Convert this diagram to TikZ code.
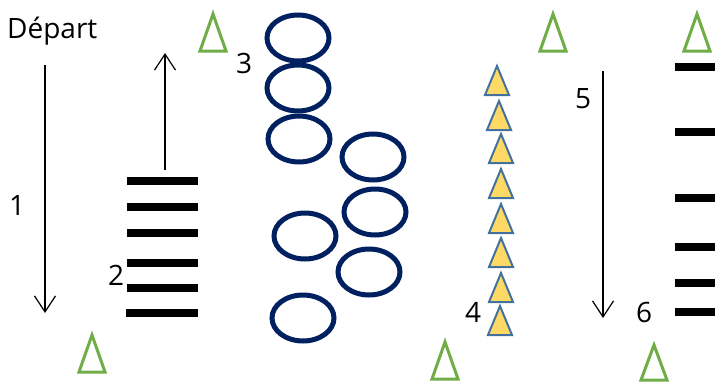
\documentclass[tikz,border=0pt]{standalone}
\usepackage{fontspec}
\setmainfont{Open Sans}
\usepackage{tikz}
\usetikzlibrary{arrows.meta}
\definecolor{navy}{RGB}{0,32,96}
\definecolor{vert}{RGB}{112,173,71}
\definecolor{jaune}{RGB}{255,217,102}
\definecolor{bleuacier}{RGB}{65,113,156}
\tikzset{
  lbl/.style={anchor=base west, inner sep=0pt, font=\fontsize{28}{30}\selectfont},
  fleche/.style={black, line width=1.2pt, -{Straight Barb[length=16pt,width=21pt,line width=1.2pt]}},
  barre/.style={black, line width=7.5pt},
  cerceau/.style={navy, line width=5pt},
  piquet/.style={vert, line width=3pt, line join=miter},
  plotcone/.style={fill=jaune, draw=bleuacier, line width=2pt, line join=miter}
}
\begin{document}
\begin{tikzpicture}[x=1pt, y=-1pt]
    \useasboundingbox (0,0) rectangle (715,383);
    %TEXTES
    \node[lbl] (depart) at (7,38) {Départ};
    \node[lbl] (l1) at (9,215) {1};
    \node[lbl] (l2) at (108,285) {2};
    \node[lbl] (l3) at (236,73) {3};
    \node[lbl] (l4) at (465,322) {4};
    \node[lbl] (l5) at (575,108) {5};
    \node[lbl] (l6) at (636,322) {6};
    %FLECHES
    \coordinate (a1) at (45,65);  \coordinate (b1) at (45,313);
    \coordinate (a2) at (165,170); \coordinate (b2) at (165,53);
    \coordinate (a5) at (603,71); \coordinate (b5) at (603,318);
    \draw[fleche] (a1) -- (b1);
    \draw[fleche] (a2) -- (b2);
    \draw[fleche] (a5) -- (b5);
    %ECHELLE 2
    \draw[barre] (127,181) -- (198,181);
    \draw[barre] (127,207) -- (198,207);
    \draw[barre] (127,233) -- (198,233);
    \draw[barre] (127,263) -- (198,263);
    \draw[barre] (127,288) -- (198,288);
    \draw[barre] (126,313) -- (198,313);
    %ECHELLE 6
    \draw[barre] (675,67) -- (716,67);
    \draw[barre] (675,132) -- (716,132);
    \draw[barre] (675,198) -- (716,198);
    \draw[barre] (675,247) -- (716,247);
    \draw[barre] (675,283) -- (716,283);
    \draw[barre] (675,312) -- (716,312);
    %CERCEAUX
    \draw[cerceau] (298,38) ellipse (31 and 23);
    \draw[cerceau] (298,88) ellipse (31 and 23);
    \draw[cerceau] (299,139) ellipse (31 and 23);
    \draw[cerceau] (373,157) ellipse (31 and 23);
    \draw[cerceau] (375,212) ellipse (31 and 23);
    \draw[cerceau] (305,236) ellipse (31 and 23);
    \draw[cerceau] (369,272) ellipse (31 and 23);
    \draw[cerceau] (303,318) ellipse (31 and 23);
    %CONES
    \draw[plotcone] (497,66) -- (509,95) -- (485,95) -- cycle;
    \draw[plotcone] (499,101) -- (511,130) -- (487,130) -- cycle;
    \draw[plotcone] (501,134) -- (513,163) -- (489,163) -- cycle;
    \draw[plotcone] (501,169) -- (513,198) -- (489,198) -- cycle;
    \draw[plotcone] (501,204) -- (513,233) -- (489,233) -- cycle;
    \draw[plotcone] (501,238) -- (513,267) -- (489,267) -- cycle;
    \draw[plotcone] (501,273) -- (513,302) -- (489,302) -- cycle;
    \draw[plotcone] (500,306) -- (512,335) -- (488,335) -- cycle;
    %PIQUETS
    \draw[piquet] (213,14) -- (226,51) -- (200,51) -- cycle;
    \draw[piquet] (92,335) -- (105,372) -- (79,372) -- cycle;
    \draw[piquet] (553,14) -- (566,51) -- (540,51) -- cycle;
    \draw[piquet] (445,342) -- (458,379) -- (432,379) -- cycle;
    \draw[piquet] (697,14) -- (710,51) -- (684,51) -- cycle;
    \draw[piquet] (654,345) -- (667,380) -- (641,380) -- cycle;
\end{tikzpicture}
\end{document}
